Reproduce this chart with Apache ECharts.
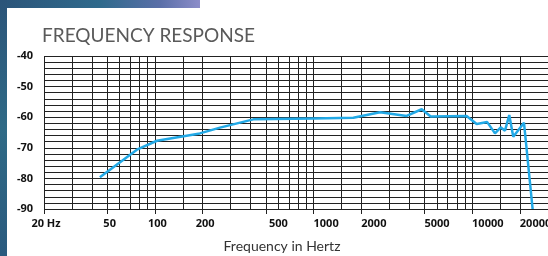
<!DOCTYPE html>
<html>
<head>
<meta charset="utf-8">
<script src="https://cdn.jsdelivr.net/npm/echarts@6/dist/echarts.min.js"></script>
<style>
html, body { margin: 0; padding: 0; background: #fff; }
#chart { width: 548px; height: 256px; }
</style>
</head>
<body>
<div id="chart"></div>
<script>
// 频响曲线读数 (Hz / dB)
const freqHz = [45, 77, 103, 192, 257, 417, 1000, 1780, 2620, 3860, 4800, 5470, 9210, 10660, 12420, 13900, 15100, 16070, 17100, 18120, 21170, 24000];
const responseDb = [-79.6, -70.6, -67.7, -65.3, -63.4, -60.7, -60.4, -60.2, -58.4, -59.6, -57.4, -59.8, -59.6, -62.2, -61.6, -65.3, -63.3, -64.4, -59.3, -66.4, -61.8, -90];
// 网格竖线 / 刻度标签
const gridFreqs = [20, 30, 40, 50, 60, 70, 80, 90, 100, 150, 200, 300, 400, 500, 600, 700, 800, 900, 1000, 1500, 2000, 3000, 4000, 5000, 6000, 7000, 8000, 9000, 10000, 15000, 20000];
const labelFreqs = [20, 50, 100, 200, 500, 1000, 2000, 5000, 10000, 20000];
const dbLabels = [-90, -80, -70, -60, -50, -40];

const chart = echarts.init(document.getElementById('chart'))
const font = 'Lato, "DejaVu Sans", sans-serif'
const boldFont = '"Open Sans", "DejaVu Sans", sans-serif'
const gridColor = '#222'
const tickText = { fontFamily: boldFont, fontSize: 11, fontWeight: 'bold', color: '#111' }

let option = {
  animation: false,
  title: {
    text: 'FREQUENCY RESPONSE',
    left: 42,
    top: 26,
    padding: 0,
    textStyle: {
      fontFamily: font,
      fontSize: 19,
      fontWeight: 'normal',
      color: '#5a5a5a',
    },
  },
  graphic: [
    {
      type: 'rect',
      shape: { x: 0, y: 0, width: 200, height: 8 },
      z: -10,
      style: {
        fill: new echarts.graphic.LinearGradient(0, 0, 1, 0, [
          { offset: 0, color: '#2b5479' },
          { offset: 0.5, color: '#2f6a8c' },
          { offset: 0.8, color: '#5a6fa8' },
          { offset: 1, color: '#8c8dc9' },
        ]),
      },
    },
    {
      type: 'rect',
      shape: { x: 0, y: 0, width: 7, height: 256 },
      z: -10,
      style: {
        fill: new echarts.graphic.LinearGradient(0, 0, 0, 1, [
          { offset: 0, color: '#2b5479' },
          { offset: 0.5, color: '#2f6a86' },
          { offset: 1, color: '#2a5a7e' },
        ]),
      },
    },
    {
      type: 'text',
      x: 282,
      y: 246,
      style: {
        text: 'Frequency in Hertz',
        fontFamily: font,
        fontSize: 14,
        fill: '#333',
        align: 'center',
        verticalAlign: 'middle',
      },
    },
  ],
  grid: {
    left: 44,
    right: 0,
    top: 56,
    bottom: 47,
    outerBoundsMode: 'none',
    containLabel: false,
  },
  xAxis: [
    {
      type: 'log',
      logBase: 10,
      min: 20,
      max: 30000,
      axisLine: { show: false },
      axisLabel: { show: false },
      axisTick: { show: false, customValues: gridFreqs },
      splitLine: {
        show: true,
        lineStyle: { color: gridColor, width: 1 },
      },
    },
    {
      type: 'log',
      logBase: 10,
      min: 20,
      max: 30000,
      position: 'bottom',
      axisLine: { show: false },
      splitLine: { show: false },
      axisTick: {
        show: true,
        customValues: labelFreqs,
        length: 5,
        lineStyle: { color: gridColor },
      },
      axisLabel: {
        customValues: labelFreqs,
        margin: 9,
        hideOverlap: false,
        ...tickText,
        // 500 以上的标签左对齐到刻度线
        formatter: (v) => {
          if (v === 20) return '{c|20 Hz}'
          if (v < 500) return '{s|' + v + '}'
          return (v >= 10000 ? '{l5|' : '{l4|') + v + '}'
        },
        rich: {
          c: { ...tickText, padding: [0, 0, 0, 4] },
          s: { ...tickText, padding: [0, 0, 0, 5] },
          l4: { ...tickText, padding: [0, 0, 0, 25] },
          l5: { ...tickText, padding: [0, 0, 0, 31] },
        },
      },
    },
  ],
  yAxis: {
    type: 'value',
    min: -90,
    max: -40,
    interval: 2,
    axisLine: { show: false },
    axisTick: { show: false },
    splitLine: {
      show: true,
      lineStyle: { color: gridColor, width: 1 },
    },
    axisLabel: {
      margin: 11,
      ...tickText,
      formatter: (v) => (dbLabels.indexOf(v) >= 0 ? String(v) : ''),
    },
  },
  series: [
    {
      type: 'line',
      xAxisIndex: 0,
      data: freqHz.map((f, i) => [f, responseDb[i]]),
      symbol: 'none',
      lineStyle: { color: '#22a9e6', width: 2.5 },
      z: 5,
    },
  ],
}

chart.setOption(option)
</script>
</body>
</html>
